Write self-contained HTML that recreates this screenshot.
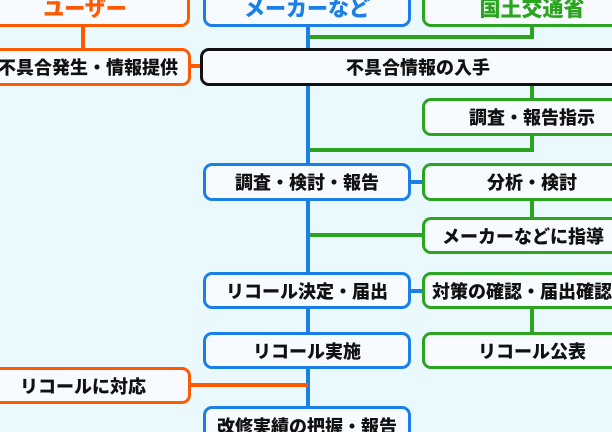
<!DOCTYPE html>
<html><head><meta charset="utf-8"><style>
html,body{margin:0;width:612px;height:432px;overflow:hidden;}
body{background:#e9f9fd;position:relative;font-family:"Liberation Sans","Noto Sans CJK JP",sans-serif;}
.b{position:absolute;box-sizing:border-box;border:3px solid;border-radius:9px;background:#f7fbff;display:flex;align-items:center;justify-content:center;font-weight:900;font-size:18px;color:#111;white-space:nowrap;overflow:hidden;}
.t{align-items:flex-end;padding-bottom:2px;font-size:21px;line-height:24px;}
.o{border-color:#ff5a00}.bl{border-color:#1a7fe6}.g{border-color:#2ba41f}.k{border-color:#111}
.l{position:absolute;}
.lo{background:#ff5a00}.lb{background:#1a7fe6}.lg{background:#2ba41f}
</style></head><body>
<div class="l lb" style="left:306px;top:20px;width:4px;height:392px"></div>
<div class="l lo" style="left:81px;top:20px;width:4px;height:30px"></div>
<div class="l lg" style="left:530px;top:20px;width:4px;height:19px"></div>
<div class="l lg" style="left:310px;top:35px;width:224px;height:4px"></div>
<div class="l lo" style="left:188px;top:64px;width:14px;height:4px"></div>
<div class="l lg" style="left:530px;top:84px;width:4px;height:16px"></div>
<div class="l lg" style="left:530px;top:134px;width:4px;height:18px"></div>
<div class="l lg" style="left:310px;top:148px;width:224px;height:4px"></div>
<div class="l lb" style="left:408px;top:180px;width:16px;height:4px"></div>
<div class="l lg" style="left:530px;top:199px;width:4px;height:20px"></div>
<div class="l lg" style="left:310px;top:233px;width:114px;height:4px"></div>
<div class="l lb" style="left:408px;top:289px;width:16px;height:4px"></div>
<div class="l lg" style="left:530px;top:307px;width:4px;height:27px"></div>
<div class="l lo" style="left:188px;top:383px;width:120px;height:4px"></div>
<div class="b o t" style="left:-20px;top:-14px;width:210px;height:41px;color:#ff5a00">ユーザー</div>
<div class="b bl t" style="left:203px;top:-14px;width:208px;height:41px;color:#1a7fe6">メーカーなど</div>
<div class="b g t" style="left:422px;top:-14px;width:220px;height:41px;color:#2ba41f">国土交通省</div>
<div class="b o" style="left:-20px;top:48px;width:211px;height:38px;justify-content:flex-end;padding-right:10px">不具合発生・情報提供</div>
<div class="b k" style="left:200px;top:48px;width:436px;height:38px">不具合情報の入手</div>
<div class="b g" style="left:422px;top:98px;width:220px;height:38px">調査・報告指示</div>
<div class="b bl" style="left:203px;top:163px;width:208px;height:38px">調査・検討・報告</div>
<div class="b g" style="left:422px;top:163px;width:220px;height:38px">分析・検討</div>
<div class="b g" style="left:422px;top:217px;width:220px;height:37px;justify-content:flex-start;padding-left:17px">メーカーなどに指導</div>
<div class="b bl" style="left:203px;top:272px;width:208px;height:37px">リコール決定・届出</div>
<div class="b g" style="left:422px;top:272px;width:220px;height:37px;justify-content:flex-start;padding-left:7px">対策の確認・届出確認</div>
<div class="b bl" style="left:203px;top:332px;width:208px;height:37px">リコール実施</div>
<div class="b g" style="left:422px;top:332px;width:220px;height:37px">リコール公表</div>
<div class="b o" style="left:-20px;top:367px;width:211px;height:37px;justify-content:flex-start;padding-left:37px">リコールに対応</div>
<div class="b bl" style="left:203px;top:406px;width:208px;height:40px;align-items:flex-start;padding-top:4px">改修実績の把握・報告</div>
</body></html>
